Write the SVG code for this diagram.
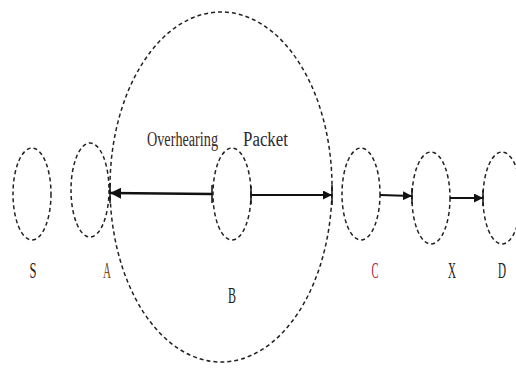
<svg xmlns="http://www.w3.org/2000/svg" width="516" height="373" viewBox="0 0 516 373">
<style>
.n{fill:none;stroke:#222;stroke-width:1.5;stroke-dasharray:4 3}
.e{stroke:#111;stroke-width:2;fill:none}
.t{stroke:#111;stroke-width:1.5}
.l{font-family:"Liberation Serif",serif;font-size:20px;fill:#222}
.s{font-family:"Liberation Serif",serif;font-size:23px;fill:#222}
</style>
<defs>
<marker id="ah" viewBox="0 0 10 10" refX="10" refY="5" markerWidth="4.5" markerHeight="4.5" orient="auto-start-reverse" markerUnits="strokeWidth">
<path d="M0,0 L10,5 L0,10 z" fill="#111"/>
</marker>
</defs>
<rect width="516" height="373" fill="#fff"/>
<g id="B-range"><ellipse class="n" cx="221" cy="187" rx="111" ry="175"/></g>
<g id="S"><ellipse class="n" cx="32" cy="194" rx="19" ry="46"/><text class="s" x="33" y="278" text-anchor="middle" textLength="7" lengthAdjust="spacingAndGlyphs">S</text></g>
<g id="A"><ellipse class="n" cx="90" cy="190" rx="19" ry="47"/><text class="s" x="107" y="278" text-anchor="middle" textLength="8" lengthAdjust="spacingAndGlyphs" style="fill:#7a4a20">A</text></g>
<g id="B"><ellipse class="n" cx="232" cy="194" rx="19" ry="46"/><text class="s" x="232" y="303" text-anchor="middle" textLength="8" lengthAdjust="spacingAndGlyphs">B</text></g>
<g id="C"><ellipse class="n" cx="361" cy="194" rx="19" ry="46"/><text class="s" x="375" y="278" text-anchor="middle" textLength="7" lengthAdjust="spacingAndGlyphs" style="fill:#b02040">C</text></g>
<g id="X"><ellipse class="n" cx="431" cy="198" rx="19" ry="46"/><text class="s" x="452" y="278" text-anchor="middle" textLength="8" lengthAdjust="spacingAndGlyphs">X</text></g>
<g id="D"><ellipse class="n" cx="502" cy="198" rx="19" ry="46"/><text class="s" x="502" y="278" text-anchor="middle" textLength="8" lengthAdjust="spacingAndGlyphs">D</text></g>
<g id="labels">
<text class="l" x="147" y="146" textLength="71" lengthAdjust="spacingAndGlyphs" style="fill:#3a2a2a">Overhearing</text>
<text class="l" x="243" y="146" textLength="45" lengthAdjust="spacingAndGlyphs" style="fill:#2a2a3a">Packet</text>
</g>
<g id="connectors">
<line class="e" x1="212" y1="194" x2="110" y2="193" style="stroke-width:2.5" marker-end="url(#ah)"/>
<line class="e" x1="251" y1="195" x2="332" y2="195" marker-end="url(#ah)"/>
<line class="e" x1="380" y1="195" x2="412" y2="196" marker-end="url(#ah)"/>
<line class="e" x1="450" y1="198" x2="483" y2="198" marker-end="url(#ah)"/>
<line class="t" x1="212" y1="185" x2="212" y2="203"/>
<line class="t" x1="251" y1="186" x2="251" y2="204"/>
<line class="t" x1="110" y1="183" x2="110" y2="203"/>
<line class="t" x1="332" y1="185" x2="332" y2="205"/>
<line class="t" x1="412" y1="188" x2="412" y2="204"/>
<line class="t" x1="483" y1="190" x2="483" y2="206"/>
</g>
</svg>
